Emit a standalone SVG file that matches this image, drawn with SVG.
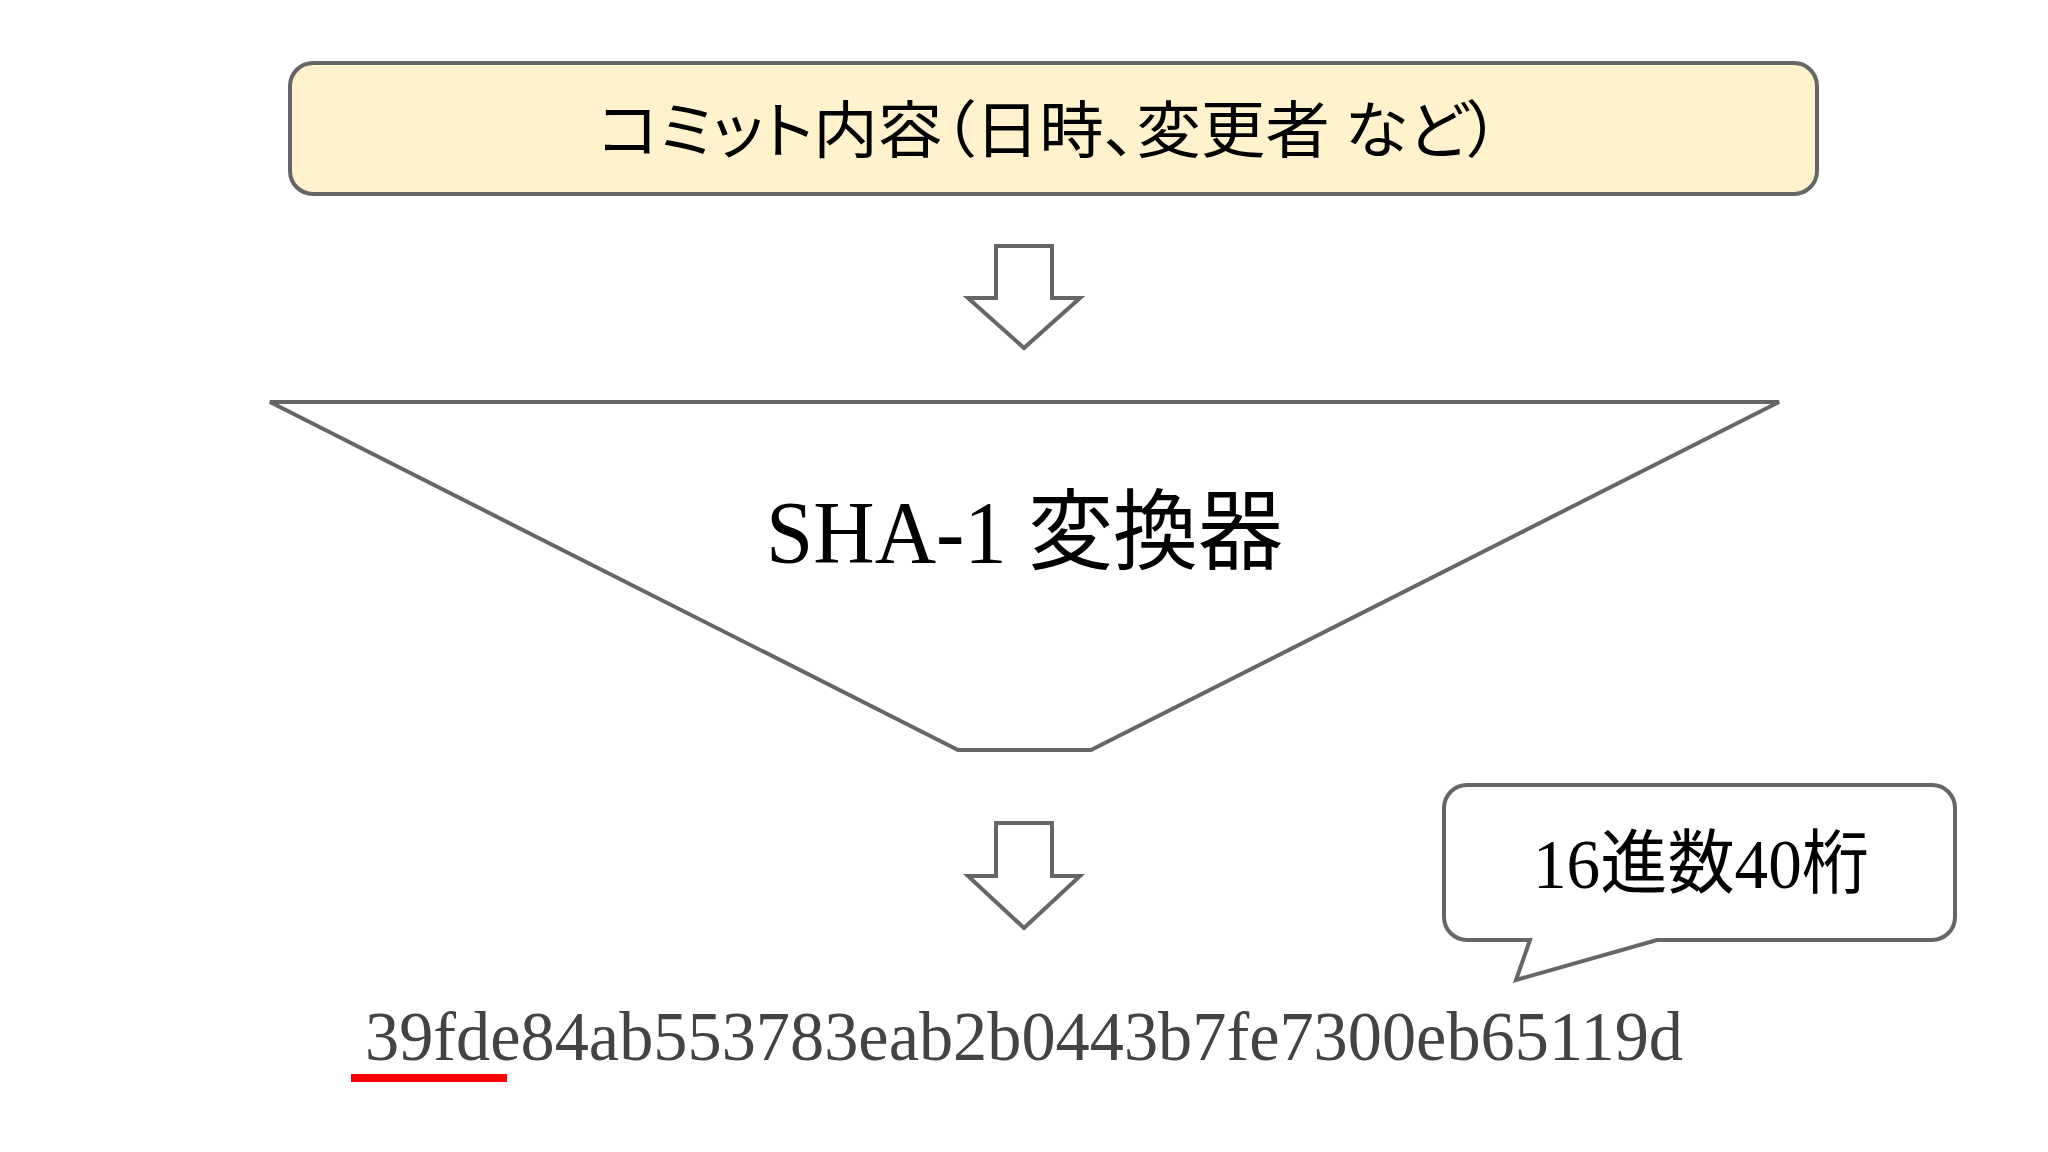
<svg xmlns="http://www.w3.org/2000/svg" width="2048" height="1152" viewBox="0 0 2048 1152">
<style>
.shape{stroke:#666666;stroke-width:4;stroke-linejoin:miter}
.jp{font-family:"Noto Sans CJK JP","Noto Sans CJK SC",sans-serif;fill:#000}
.serif{font-family:"Liberation Serif","Noto Sans CJK JP",serif;fill:#000}
</style>
<rect width="2048" height="1152" fill="#ffffff"/>
<g id="commit-content">
<rect class="shape" x="290" y="63" width="1527" height="131" rx="23" ry="23" fill="#fff2cc"/>
<text class="jp" x="598" y="153" font-size="62" textLength="902" lengthAdjust="spacingAndGlyphs" style="font-feature-settings:'palt'">コミット内容（日時、変更者 など）</text>
</g>
<g id="connectors">
<path class="shape" fill="#ffffff" d="M996,246 H1052 V298 H1080 L1024,348 L968,298 H996 Z"/>
<path class="shape" fill="#ffffff" d="M996,823 H1052 V876 H1080 L1024,928 L968,876 H996 Z"/>
</g>
<g id="sha1-converter">
<path class="shape" fill="#ffffff" d="M270,402 H1779 L1091,750 H958 Z"/>
<text class="serif" x="766" y="562" font-size="88" textLength="517" lengthAdjust="spacingAndGlyphs">SHA-1 変換器</text>
</g>
<g id="callout">
<path class="shape" fill="#ffffff" d="M1467,785 H1932 A23,23 0 0 1 1955,808 V917 A23,23 0 0 1 1932,940 H1657 L1516,980 L1530,940 H1467 A23,23 0 0 1 1444,917 V808 A23,23 0 0 1 1467,785 Z"/>
<text class="serif" x="1533" y="888" font-size="70" textLength="336" lengthAdjust="spacingAndGlyphs">16進数40桁</text>
</g>
<g id="hash">
<text class="serif" x="365" y="1060" font-size="70" style="fill:#434343" textLength="1318" lengthAdjust="spacingAndGlyphs">39fde84ab553783eab2b0443b7fe7300eb65119d</text>
<rect x="351" y="1074" width="156" height="8" fill="#ff0000"/>
</g>
</svg>
